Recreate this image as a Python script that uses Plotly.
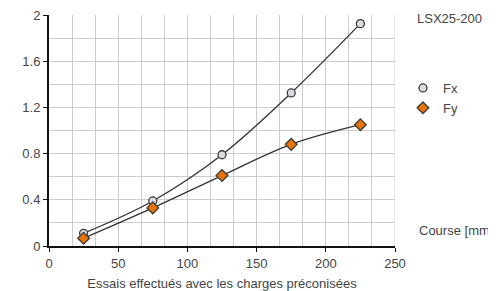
import plotly.graph_objects as go

course = [25, 75, 125, 175, 225]
fx = [0.11, 0.39, 0.79, 1.325, 1.925]
fy = [0.067, 0.33, 0.61, 0.88, 1.05]
y_ticks = [0, 0.4, 0.8, 1.2, 1.6, 2]
y_labels = ["0", "0.4", "0.8", "1.2", "1.6", "2"]

font = "Liberation Sans, Arial, sans-serif"
fig = go.Figure()
fig.add_trace(go.Scatter(x=course, y=fx, name="Fx", mode="lines+markers", showlegend=False,
                         line=dict(color="#333333", width=1.3, shape="spline"),
                         marker=dict(symbol="circle", size=8, color="#dcdce0",
                                     line=dict(color="#3a3a3a", width=1.3))))
fig.add_trace(go.Scatter(x=course, y=fy, name="Fy", mode="lines+markers", showlegend=False,
                         line=dict(color="#333333", width=1.3, shape="spline"),
                         marker=dict(symbol="diamond", size=9, color="#e8730a",
                                     line=dict(color="#3a3a3a", width=1.3))))
# legend entries (markers only)
fig.add_trace(go.Scatter(x=[None], y=[None], name="Fx", mode="markers",
                         marker=dict(symbol="circle", size=8, color="#dcdce0",
                                     line=dict(color="#3a3a3a", width=1.3))))
fig.add_trace(go.Scatter(x=[None], y=[None], name="Fy", mode="markers",
                         marker=dict(symbol="diamond", size=9, color="#e8730a",
                                     line=dict(color="#3a3a3a", width=1.3))))

fig.update_layout(
    width=488, height=283,
    margin=dict(l=41, r=101, t=7, b=45, autoexpand=False),
    paper_bgcolor="white", plot_bgcolor="white",
    font=dict(family=font, size=13, color="#444444"),
    showlegend=True,
    legend=dict(x=1.023, y=0.749, xanchor="left", yanchor="top",
                bgcolor="rgba(0,0,0,0)", itemwidth=30, tracegroupgap=0,
                font=dict(size=13, color="#444444")),
    xaxis=dict(range=[0, 250], dtick=50, tick0=0, showgrid=True, automargin=False,
               gridcolor="#cccccc", gridwidth=1, ticklabeloverflow="allow",
               minor=dict(dtick=50/3, tick0=0, showgrid=True, gridcolor="#cccccc", gridwidth=1),
               showline=True, linecolor="#111111", linewidth=2,
               ticks="outside", ticklen=4, tickcolor="#111111",
               zeroline=False, mirror=False,
               title=dict(text="Essais effectués avec les charges préconisées",
                          standoff=10, font=dict(size=13, color="#444444"))),
    yaxis=dict(range=[0, 2], tickmode="array", tickvals=y_ticks, ticktext=y_labels,
               showgrid=True, automargin=False, ticklabeloverflow="allow",
               gridcolor="#cccccc", gridwidth=1,
               minor=dict(dtick=0.2, tick0=0, showgrid=True, gridcolor="#cccccc", gridwidth=1),
               showline=True, linecolor="#111111", linewidth=2,
               ticks="outside", ticklen=4, tickcolor="#111111",
               zeroline=False),
    annotations=[
        dict(text="LSX25-200", xref="paper", yref="paper", x=1.058, y=0.983,
             xanchor="left", yanchor="middle", showarrow=False,
             font=dict(size=13, color="#444444")),
        dict(text="Course [mm]", xref="paper", yref="paper", x=1.064, y=0.069,
             xanchor="left", yanchor="middle", showarrow=False,
             font=dict(size=13, color="#444444")),
    ],
)
fig.add_shape(type="line", xref="x", yref="paper", x0=250, x1=250, y0=0, y1=1,
              line=dict(color="#cccccc", width=1), layer="below")
fig.write_html("out.html")
